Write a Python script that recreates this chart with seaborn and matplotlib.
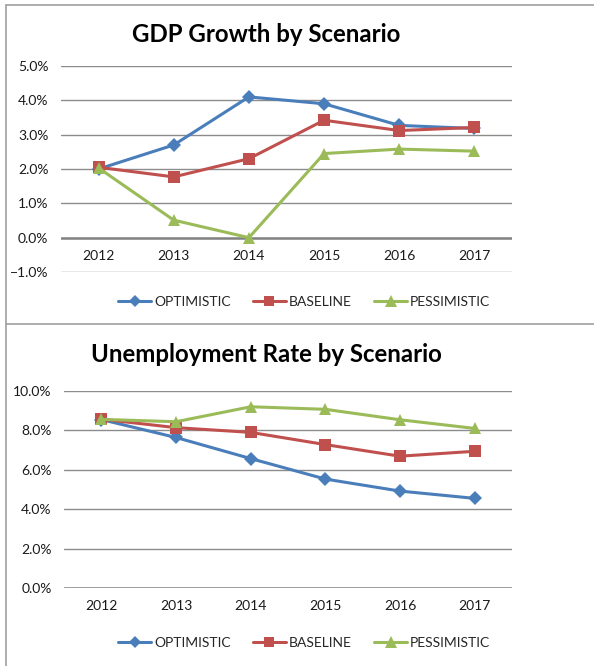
import matplotlib
matplotlib.use('Agg')
import numpy as np
import pandas as pd
import matplotlib.pyplot as plt
import seaborn as sns
from matplotlib.lines import Line2D
from matplotlib.ticker import PercentFormatter

# ==================== 数据 ====================
YEARS = [2012, 2013, 2014, 2015, 2016, 2017]
SCENARIOS = ['OPTIMISTIC', 'BASELINE', 'PESSIMISTIC']

gdp_optimistic = [2.0, 2.7, 4.1, 3.9, 3.27, 3.18]
gdp_baseline = [2.05, 1.77, 2.3, 3.42, 3.12, 3.21]
gdp_pessimistic = [2.03, 0.51, 0.0, 2.45, 2.58, 2.52]

unemp_optimistic = [8.55, 7.64, 6.57, 5.53, 4.92, 4.55]
unemp_baseline = [8.57, 8.14, 7.9, 7.28, 6.69, 6.94]
unemp_pessimistic = [8.56, 8.44, 9.2, 9.07, 8.54, 8.1]

COLORS = {'OPTIMISTIC': '#4A7EBB', 'BASELINE': '#C0504D', 'PESSIMISTIC': '#9BBB59'}
MARKERS = {'OPTIMISTIC': 'D', 'BASELINE': 's', 'PESSIMISTIC': '^'}
MSIZE = {'OPTIMISTIC': 7, 'BASELINE': 8, 'PESSIMISTIC': 9}
LW = 2.2

sns.set_style('white')
plt.rcParams['font.family'] = ['Lato', 'DejaVu Sans']


def long_df(opt, base, pess):
    frames = []
    for name, vals in zip(SCENARIOS, [opt, base, pess]):
        frames.append(pd.DataFrame({'Year': YEARS, 'Value': vals, 'Scenario': name}))
    return pd.concat(frames, ignore_index=True)


def draw_panel(ax, df, ylim, yticks, title, title_y, legend_y, fig):
    for name in SCENARIOS:
        sub = df[df['Scenario'] == name]
        sns.lineplot(data=sub, x='Year', y='Value', ax=ax, color=COLORS[name],
                     marker=MARKERS[name], markersize=MSIZE[name], markeredgewidth=0,
                     linewidth=LW, label=name, legend=False)
    ax.set_xlim(YEARS[0] - 0.5, YEARS[-1] + 0.5)
    ax.set_ylim(*ylim)
    ax.set_yticks(yticks)
    ax.yaxis.set_major_formatter(PercentFormatter(decimals=1))
    ax.set_xticks(YEARS)
    ax.set_xticklabels([str(y) for y in YEARS])
    ax.set_xlabel('')
    ax.set_ylabel('')
    for t in yticks:
        if t == 0:
            continue
        ax.axhline(t, color='#8C8C8C', linewidth=1.0, zorder=0)
    ax.axhline(0, color='#808080', linewidth=1.8, zorder=0)
    for s in ax.spines.values():
        s.set_visible(False)
    ax.spines['bottom'].set_position(('data', 0))
    ax.tick_params(axis='x', length=0, pad=9, labelsize=10, colors='#1a1a1a')
    ax.tick_params(axis='y', length=0, pad=9, labelsize=10, colors='#1a1a1a')
    ax.set_facecolor('none')
    fig.text(266 / 594, title_y, title, ha='center', va='center', fontsize=17.3,
             fontweight='bold', color='black')
    handles = [Line2D([], [], color=COLORS[n], marker=MARKERS[n], markersize=MSIZE[n] - 0.5,
                      markeredgewidth=0, linewidth=LW) for n in SCENARIOS]
    fig.legend(handles, SCENARIOS, loc='center', bbox_to_anchor=(0.512, legend_y),
               ncol=3, frameon=False, fontsize=10, handlelength=2.4, handletextpad=0.2,
               columnspacing=1.6)


fig = plt.figure(figsize=(5.94, 6.66), dpi=100)

ax1 = fig.add_axes([61 / 594, 1 - 272 / 666, 451 / 594, 206 / 666])
draw_panel(ax1, long_df(gdp_optimistic, gdp_baseline, gdp_pessimistic),
           (-1, 5), [-1, 0, 1, 2, 3, 4, 5], 'GDP Growth by Scenario',
           1 - 34 / 666, 1 - 302 / 666, fig)

ax2 = fig.add_axes([64 / 594, 1 - 588 / 666, 448 / 594, 197 / 666])
draw_panel(ax2, long_df(unemp_optimistic, unemp_baseline, unemp_pessimistic),
           (0, 10), [0, 2, 4, 6, 8, 10], 'Unemployment Rate by Scenario',
           1 - 355 / 666, 1 - 643 / 666, fig)

# 图表边框
border = '#A0A0A0'
fig.add_artist(Line2D([6 / 594, 1], [1 - 4.5 / 666, 1 - 4.5 / 666], color=border, lw=1.2))
fig.add_artist(Line2D([6 / 594, 6 / 594], [0, 1 - 4.5 / 666], color=border, lw=1.2))
fig.add_artist(Line2D([6 / 594, 1], [1 - 324 / 666, 1 - 324 / 666], color=border, lw=1.2))

fig.savefig('out.png', dpi=100)
